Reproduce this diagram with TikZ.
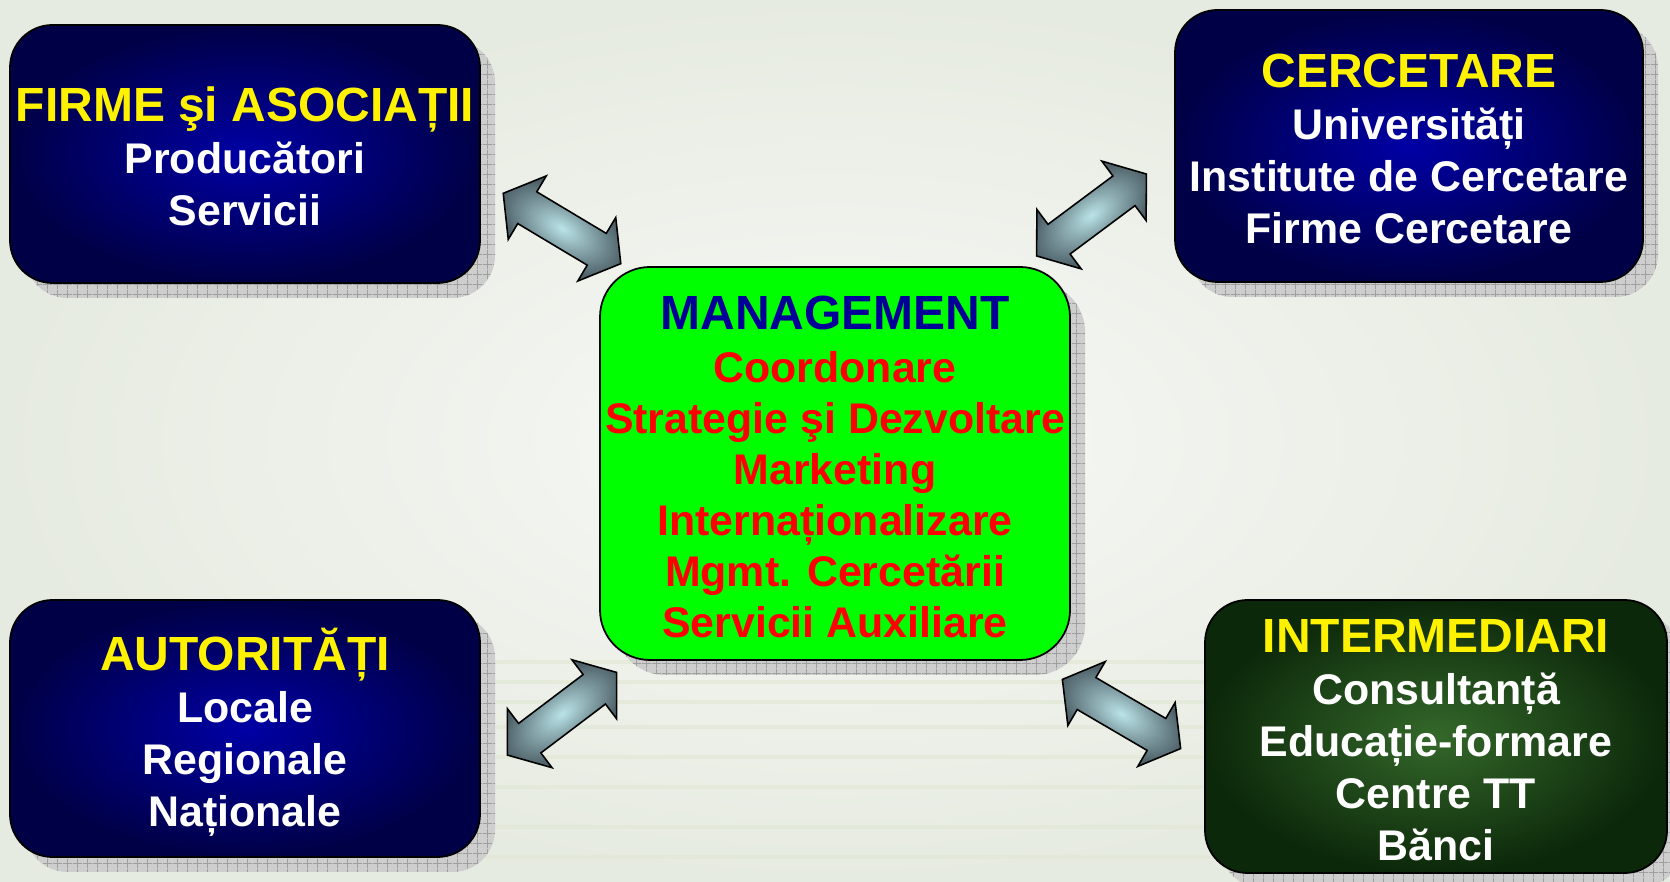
\documentclass[tikz,border=0pt]{standalone}
\usepackage{fontspec}
\setmainfont{Liberation Sans}
\usetikzlibrary{shadows,calc,patterns.meta}

\definecolor{navyin}{RGB}{0,0,165}
\definecolor{navyout}{RGB}{0,0,70}
\definecolor{forestin}{RGB}{52,104,42}
\definecolor{forestout}{RGB}{12,40,10}
\definecolor{limefill}{RGB}{0,255,0}
\definecolor{mgmtblue}{RGB}{0,0,153}
\definecolor{arrowlight}{RGB}{186,228,232}
\definecolor{arrowdark}{RGB}{78,96,104}
\definecolor{bgin}{RGB}{248,249,246}
\definecolor{bgout}{RGB}{230,235,225}
\definecolor{stripe}{RGB}{226,232,214}
\definecolor{shadowgray}{RGB}{206,206,206}

\tikzset{
  box/.style={draw, line width=1pt, rounded corners=0.85cm, minimum width=9.4cm,
    inner xsep=0pt, align=center, text=white,
    font=\bfseries\fontsize{24.4}{29.6}\selectfont,
    drop shadow={shadow xshift=0.3cm, shadow yshift=-0.3cm, opacity=1, fill=shadowgray,
      postaction={pattern={Hatch[angle=0,distance=5.4pt,line width=0.5pt]}, pattern color=gray!75}}},
  navybox/.style={box, inner color=navyin, outer color=navyout},
  forestbox/.style={box, inner color=forestin, outer color=forestout},
  mgmtbox/.style={box, fill=limefill, text=red, rounded corners=1cm,
    minimum height=7.86cm, font=\bfseries\fontsize{24.4}{29}\selectfont},
  twowayarrow/.style={draw=black, line width=0.9pt, line join=miter,
    inner color=arrowlight, outer color=arrowdark},
  paper/.style={stripe, line width=2.5pt, opacity=0.7}
}

\newcommand{\boxhead}[2][yellow]{{\color{#1}\fontsize{27.3}{29.6}\selectfont\rule{0pt}{0.8cm}#2}}

% block arrow between two tips
\newcommand{\twoway}[2]{%
  \pgfmathanglebetweenpoints{\pgfpointanchor{#1}{center}}{\pgfpointanchor{#2}{center}}%
  \let\twangle\pgfmathresult
  \begin{scope}[transform canvas={shift={($(#1)!0.5!(#2)$)},rotate=\twangle}]
    \shadedraw[twowayarrow] (-1.37,0) -- (-0.81,0.74) -- (-0.81,0.37) -- (0.81,0.37)
      -- (0.81,0.74) -- (1.37,0) -- (0.81,-0.74) -- (0.81,-0.37) -- (-0.81,-0.37)
      -- (-0.81,-0.74) -- cycle;
  \end{scope}}

\begin{document}
\begin{tikzpicture}
  \useasboundingbox (0,0) rectangle (33.4,17.64);
  \shade[inner color=bgin, outer color=bgout] (0,0) rectangle (33.4,17.64);

  % paper stack in the background
  \foreach \yy in {0.5,1.1,1.9,2.5,3.1,3.6,4.0,4.4}
    \draw[paper] (5.6,\yy) -- (24.5,\yy);

  \node[name=firme, navybox, minimum height=5.16cm] at (4.90,14.56)
    {\boxhead{FIRME şi ASOCIAȚII}\\ Producători\\ Servicii};
  \node[name=cercet, navybox, minimum width=9.36cm, minimum height=5.44cm] at (28.18,14.72)
    {\boxhead{CERCETARE}\\ Universități\\ Institute de Cercetare\\ Firme Cercetare};
  \node[name=mgmt, mgmtbox] at (16.70,8.37)
    {\boxhead[mgmtblue]{MANAGEMENT}\\[1.5pt] Coordonare\\ Strategie şi Dezvoltare\\
     Marketing\\ Internaționalizare\\ Mgmt. Cercetării\\ Servicii Auxiliare};
  \node[name=autor, navybox, minimum height=5.14cm, text depth=0.04cm] at (4.90,3.07)
    {\boxhead{AUTORITĂȚI}\\ Locale\\ Regionale\\ Naționale};
  \node[name=interm, forestbox, minimum width=9.24cm, minimum height=5.46cm] at (28.72,2.91)
    {\boxhead{INTERMEDIARI}\\ Consultanță\\ Educație-formare\\ Centre TT\\ Bănci};

  \coordinate (f1) at (10.07,13.77);
  \coordinate (f2) at (12.41,12.37);
  \coordinate (c1) at (20.73,12.52);
  \coordinate (c2) at (22.93,14.16);
  \coordinate (a1) at (10.15,2.54);
  \coordinate (a2) at (12.33,4.19);
  \coordinate (i1) at (21.25,4.05);
  \coordinate (i2) at (23.61,2.67);

  \twoway{f1}{f2}
  \twoway{c1}{c2}
  \twoway{a1}{a2}
  \twoway{i1}{i2}
\end{tikzpicture}
\end{document}
